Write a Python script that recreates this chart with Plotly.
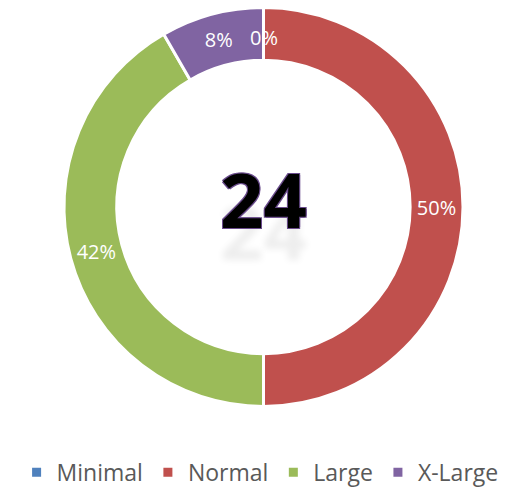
import math
import plotly.graph_objects as go

categories = ["Minimal", "Normal", "Large", "X-Large"]
counts = [0, 12, 10, 2]
colors = ["#4F81BD", "#C0504D", "#9BBB59", "#8064A2"]
total_label = str(sum(counts))

W, H = 510, 488
# ring geometry in pixels: centre, outer radius
ccx, ccy, R_out = 263.5, 207.0, 199.5
dom_x = [(ccx - R_out) / W, (ccx + R_out) / W]
dom_y = [1 - (ccy + R_out) / H, 1 - (ccy - R_out) / H]
hole = 0.735
lab_font = dict(color="white", size=20, family="Open Sans")

fig = go.Figure()
fig.add_trace(go.Pie(
    labels=categories,
    values=counts,
    marker=dict(colors=colors, line=dict(color="white", width=3)),
    hole=hole,
    sort=False,
    direction="clockwise",
    rotation=0,
    texttemplate="%{percent:.0%}",
    textposition="inside",
    insidetextorientation="horizontal",
    insidetextfont=lab_font,
    domain=dict(x=dom_x, y=dom_y),
    showlegend=True,
    hoverinfo="label+value+percent",
))

# label for zero-valued slices (Plotly does not draw them)
r_mid = R_out * (1 + hole) / 2 - 4
tot = sum(counts)
cum = 0
for c, v in zip(categories, counts):
    if v == 0:
        ang = 2 * math.pi * cum / tot
        px = ccx + r_mid * math.sin(ang)
        py = ccy - r_mid * math.cos(ang)
        fig.add_annotation(
            x=px / W, y=1 - py / H, xanchor="center", yanchor="middle",
            xref="paper", yref="paper", text="0%", showarrow=False,
            font=lab_font,
        )
    cum += v

fig.add_annotation(
    x=ccx / W, y=1 - 198 / H, xanchor="center", yanchor="middle",
    xref="paper", yref="paper", text=total_label, showarrow=False,
    font=dict(color="black", size=76, family="Open Sans", weight="bold",
              shadow="1px 1px 0 #6a4c8c, -1px -1px 0 #6a4c8c, 1px -1px 0 #6a4c8c, -1px 1px 0 #6a4c8c, 0px 32px 7px rgba(0,0,0,0.07)"),
)

fig.update_layout(
    width=W, height=H,
    margin=dict(l=0, r=0, t=0, b=0, autoexpand=False),
    paper_bgcolor="white", plot_bgcolor="white",
    legend=dict(orientation="h", x=0.51, xanchor="center", y=-0.012, yanchor="bottom",
                font=dict(size=23, color="#595959", family="Open Sans"),
                borderwidth=0, itemwidth=30, tracegroupgap=0),
)

fig.write_html("out.html", config={"displayModeBar": False},
               post_script="document.body.style.margin='0';")
